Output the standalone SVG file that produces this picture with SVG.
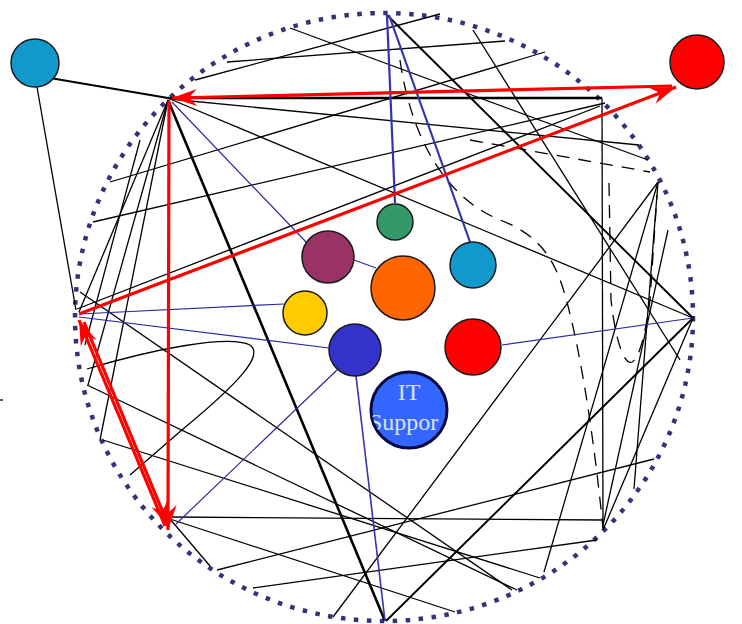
<svg xmlns="http://www.w3.org/2000/svg" width="742" height="624" viewBox="0 0 742 624">
<defs>
<style>
.ln{stroke:#000;stroke-width:1.3;fill:none}
.md{stroke:#000;stroke-width:1.9;fill:none}
.thk{stroke:#000;stroke-width:2.6;fill:none}
.ds{stroke:#000;stroke-width:1.3;fill:none;stroke-dasharray:13 9}
.bl{stroke:#2a2aa0;stroke-width:1.2;fill:none}
.blt{stroke:#3333b0;stroke-width:2.2;fill:none}
.rd{stroke:#ff0000;stroke-width:3.2;fill:none;marker-end:url(#ah)}
.nd{stroke:#1a1a1a;stroke-width:1.5}
.lbl{font-family:"Liberation Serif","Times New Roman",serif;font-size:24px;fill:#d8e4ff}
</style>
<marker id="ah" viewBox="-26 -10 28 20" refX="0" refY="0" markerWidth="28" markerHeight="20" markerUnits="userSpaceOnUse" orient="auto">
<path d="M0,0 L-25,-8.5 L-17,0 L-25,8.5 Z" fill="#ff0000"/>
</marker>
<clipPath id="itc"><circle cx="409" cy="410" r="37"/></clipPath>
</defs>
<rect width="742" height="624" fill="#fff"/>
<ellipse cx="384" cy="317" rx="309" ry="304" fill="none" stroke="#333377" stroke-width="4.5" stroke-dasharray="4.5 8.5"/>
<g id="connectors">
<path class="ln" d="M195,80 L440,14"/>
<path class="ln" d="M227,62 L505,41"/>
<path class="ln" d="M290,28 L648,160"/>
<path class="ln" d="M110,182 L545,52"/>
<path class="ln" d="M93,222 L605,103"/>
<path class="ln" d="M77,309 L600,106"/>
<path class="ln" d="M170,99 L639,145"/>
<path class="ln" d="M170,99 L693,318"/>
<path class="ln" d="M168,100 L79,312"/>
<path class="ln" d="M168,100 L88,385"/>
<path class="ln" d="M168,100 L100,440"/>
<path class="md" d="M50,78 L168,98"/>
<path class="ln" d="M37,87 L76,310"/>
<path class="ln" d="M140,140 L85,345"/>
<path class="md" d="M387,15 L693,318"/>
<path class="ln" d="M473,30 L680,360"/>
<path class="ln" d="M80,292 L512,590"/>
<path class="ln" d="M87,385 L517,590"/>
<path class="ln" d="M103,440 L540,578"/>
<path class="ln" d="M170,519 L455,612"/>
<path class="ln" d="M170,519 L210,566"/>
<path class="ln" d="M217,570 L654,459"/>
<path class="ln" d="M253,588 L597,540"/>
<path class="ln" d="M658,182 L333,617"/>
<path class="ln" d="M658,182 L544,572"/>
<path class="ln" d="M658,182 L634,489"/>
<path class="md" d="M693,318 L386,621"/>
<path class="ln" d="M693,318 L603,530"/>
<path class="ln" d="M668,230 L603,525"/>
<path class="ln" d="M87,369 C150,350 228,334 250,345 C264,355 240,382 183,429 L130,475"/>
<path class="thk" d="M168,100 L385,621"/>
<path class="thk" d="M168,98 L602,98"/>
<path class="ln" d="M602,98 L603,530"/>
<path class="ln" d="M172,517 L603,520"/>
<path class="ds" d="M400,60 C410,130 440,195 500,220 C540,235 555,260 565,295 C575,330 590,400 603,528"/>
<path class="ds" d="M470,140 L650,172"/>
<path class="ds" d="M609,183 L611,300 C616,345 625,365 632,362 C640,358 646,330 650,300 L657,195"/>
<path class="blt" d="M387,15 L395,203"/>
<path class="blt" d="M389,15 L470,242"/>
<path class="bl" d="M172,102 L306,242"/>
<path class="bl" d="M354,260 L376,268"/>
<path class="bl" d="M79,314 L284,304"/>
<path class="bl" d="M79,317 L329,348"/>
<path class="bl" d="M337,370 L176,524"/>
<path class="blt" style="stroke-width:1.6" d="M356,376 L385,621"/>
<path class="bl" d="M502,345 L693,318"/>
<path class="ln" d="M0,400 L3,400"/>
<path class="rd" d="M672,86 L172,98"/>
<path class="rd" d="M79,314 L676,87"/>
<path class="rd" d="M169,101 L168,530"/>
<path class="rd" d="M165,526 L79,320"/>
<path class="rd" d="M84,322 L169,527"/>
</g>
<g id="n-teal-out"><circle class="nd" cx="35" cy="63" r="24" fill="#1199cc"/></g>
<g id="n-red-out"><circle class="nd" cx="697" cy="62" r="27" fill="#ff0000"/></g>
<g id="n-green"><circle class="nd" cx="395" cy="222" r="18" fill="#339966"/></g>
<g id="n-purple"><circle class="nd" cx="328" cy="257" r="26" fill="#993366"/></g>
<g id="n-orange"><circle class="nd" cx="403" cy="288" r="32" fill="#ff6600"/></g>
<g id="n-teal"><circle class="nd" cx="473" cy="265" r="23" fill="#1199cc"/></g>
<g id="n-yellow"><circle class="nd" cx="305" cy="313" r="22" fill="#ffcc00"/></g>
<g id="n-darkblue"><circle class="nd" cx="355" cy="350" r="26" fill="#3333cc"/></g>
<g id="n-red"><circle class="nd" cx="473" cy="347" r="28" fill="#ff0000"/></g>
<g id="n-it">
<circle cx="409" cy="410" r="38" fill="#3366ff" stroke="#0a0a40" stroke-width="3"/>
<g clip-path="url(#itc)">
<text class="lbl" x="409" y="400" text-anchor="middle">IT</text>
<text class="lbl" x="369" y="430">Suppor</text>
</g>
</g>
</svg>
